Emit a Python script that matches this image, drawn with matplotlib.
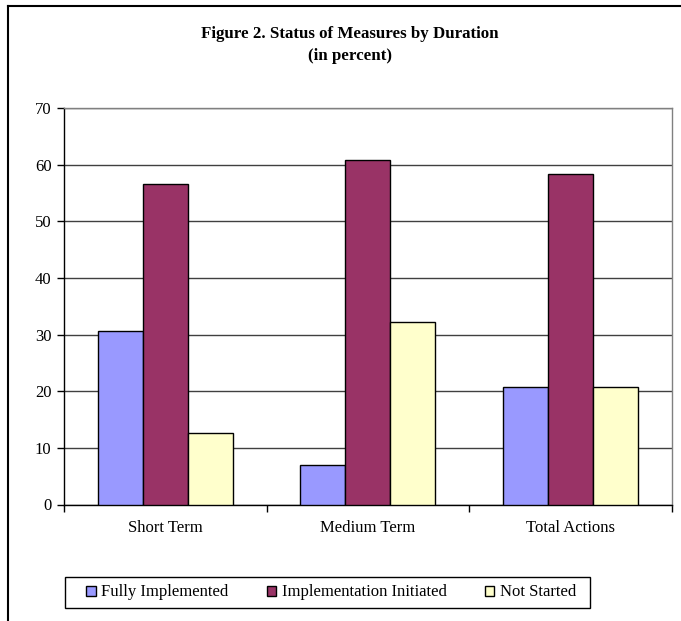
import numpy as np
import matplotlib.pyplot as plt
from matplotlib.lines import Line2D
from matplotlib.patches import Rectangle

plt.rcParams['font.family'] = ['Liberation Serif', 'DejaVu Serif']

categories = ['Short Term', 'Medium Term', 'Total Actions']
series_names = ['Fully Implemented', 'Implementation Initiated', 'Not Started']
fully = [30.6, 6.9, 20.7]
initiated = [56.6, 60.9, 58.4]
not_started = [12.7, 32.3, 20.7]
colors = ['#9999FF', '#993366', '#FFFFCC']
yticks = [0, 10, 20, 30, 40, 50, 60, 70]

W, H = 681, 621
fig = plt.figure(figsize=(W / 100, H / 100), dpi=100)
ax = fig.add_axes([64 / W, 1 - 504.5 / H, (671.5 - 64) / W, (504.5 - 108) / H])

x = np.arange(len(categories))
bw = 0.222
for i, (vals, name) in enumerate(zip([fully, initiated, not_started], series_names)):
    ax.bar(x + (i - 1) * bw, vals, bw, color=colors[i], edgecolor='black',
           linewidth=1, label=name, zorder=3)

ax.set_xlim(-0.5, len(categories) - 0.5)
ax.set_ylim(0, 70)
ax.set_yticks(yticks)
ax.tick_params(axis='y', direction='out', length=5, width=1, color='black',
               labelsize=12, pad=4)
ax.yaxis.grid(True, color='#404040', linewidth=1, zorder=0)

# category ticks sit on the group boundaries, labels in the middle
ax.set_xticks(np.arange(len(categories) + 1) - 0.5)
ax.set_xticklabels([])
ax.set_xticks(x, minor=True)
ax.set_xticklabels(categories, minor=True)
ax.tick_params(axis='x', which='major', direction='out', length=5, width=1)
ax.tick_params(axis='x', which='minor', length=0, labelsize=12, pad=11)

for side in ['top', 'right']:
    ax.spines[side].set_color('#808080')
    ax.spines[side].set_linewidth(1)
for side in ['left', 'bottom']:
    ax.spines[side].set_color('black')
    ax.spines[side].set_linewidth(1)

fig.text(350 / W, 1 - 34 / H, 'Figure 2. Status of Measures by Duration',
         ha='center', va='center', fontsize=12.2, fontweight='bold')
fig.text(350 / W, 1 - 56 / H, '(in percent)',
         ha='center', va='center', fontsize=12.2, fontweight='bold')

leg = fig.legend(loc='center', bbox_to_anchor=(331.5 / W, 1 - 592.5 / H),
                 ncol=3, fontsize=12, frameon=False,
                 handlelength=0.55, handleheight=0.55, handletextpad=0.35,
                 columnspacing=2.3, borderpad=0.45)
# legend box drawn on its own so the padding can be wider than tall
fig.add_artist(Rectangle((65 / W, 1 - 608 / H), (590 - 65) / W, 31 / H,
                         transform=fig.transFigure, fill=False,
                         edgecolor='black', linewidth=1))

# outer border of the chart area
fig.add_artist(Line2D([8 / W, 8 / W], [0, 1 - 6 / H], color='black', linewidth=1.5,
                      transform=fig.transFigure))
fig.add_artist(Line2D([8 / W, 1], [1 - 6 / H, 1 - 6 / H], color='black', linewidth=1.5,
                      transform=fig.transFigure))

fig.savefig('out.png', dpi=100)
